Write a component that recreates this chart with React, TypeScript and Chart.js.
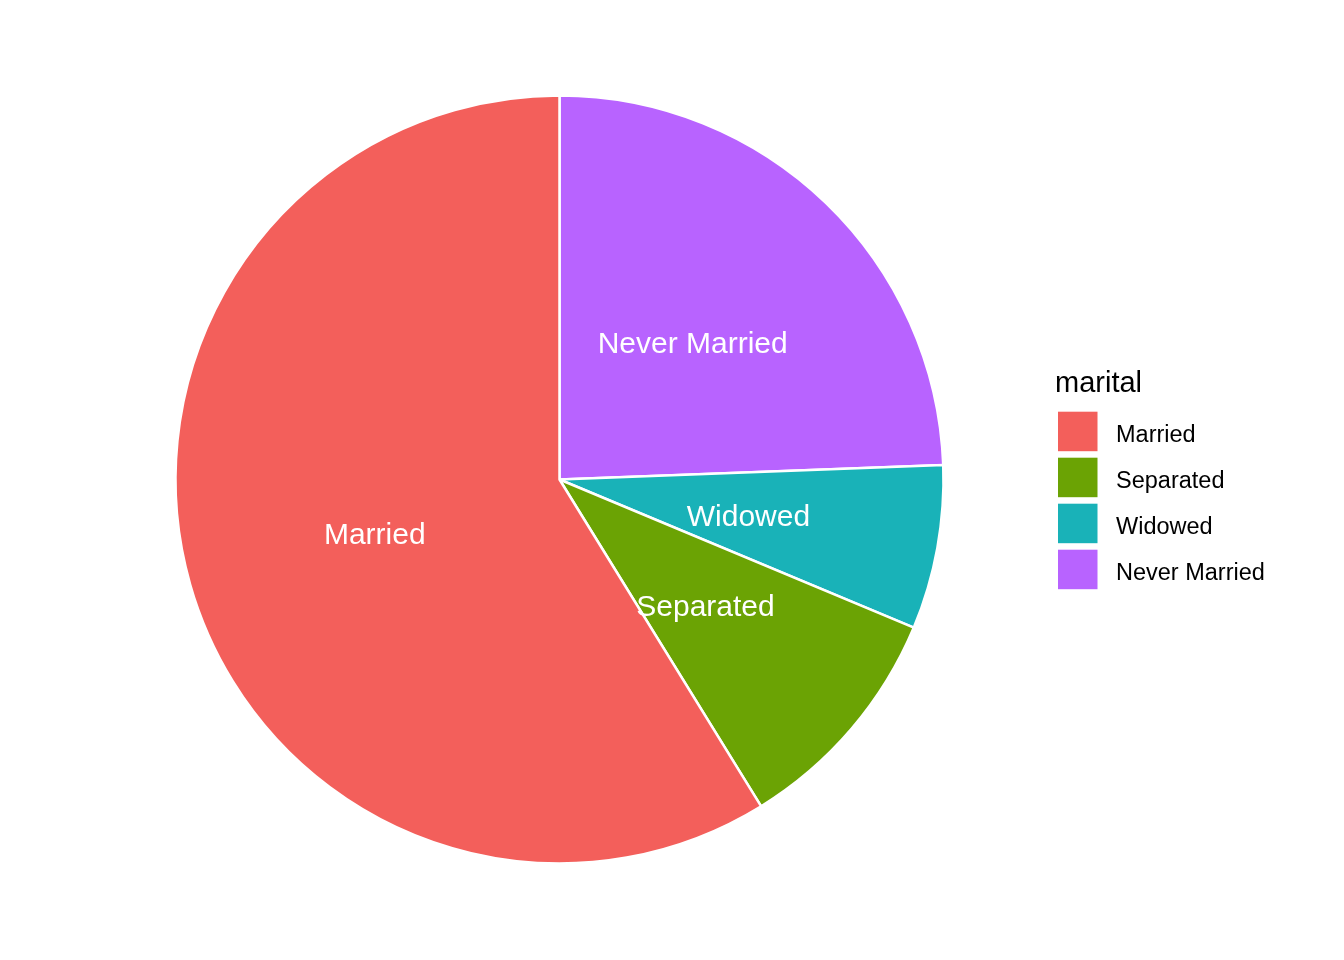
import React, { useEffect, useRef } from "react";
import { Chart, registerables } from "chart.js";

Chart.register(...registerables);

const categories = ["Married", "Separated", "Widowed", "Never Married"];
const counts = [588, 99, 69, 244];
const colors = ["#F35F5B", "#6BA304", "#19B2B8", "#B863FF"];
const legendTitle = "marital";

// Slices are drawn clockwise from 12 o'clock in reverse legend order (as ggplot's stack + coord_polar)
const sliceLabels = [...categories].reverse();
const sliceValues = [...counts].reverse();
const sliceColors = [...colors].reverse();

const FONT = '"Liberation Sans", Arial, Helvetica, sans-serif';

const labelPlugin = {
  id: "sliceLabels",
  afterDatasetsDraw(chart: any) {
    const ctx = chart.ctx;
    const meta = chart.getDatasetMeta(0);
    ctx.save();
    ctx.fillStyle = "#FFFFFF";
    ctx.font = `30px ${FONT}`;
    ctx.textAlign = "center";
    ctx.textBaseline = "alphabetic";
    meta.data.forEach((arc: any, i: number) => {
      const mid = (arc.startAngle + arc.endAngle) / 2;
      const r = arc.outerRadius * 0.5;
      const x = arc.x + Math.cos(mid) * r;
      const y = arc.y + Math.sin(mid) * r;
      ctx.fillText(String(chart.data.labels[i]), x, y + 12.2);
    });
    ctx.restore();
  },
};

const legendPlugin = {
  id: "customLegend",
  afterDraw(chart: any) {
    const ctx = chart.ctx;
    ctx.save();
    ctx.fillStyle = "#000000";
    ctx.textAlign = "left";
    ctx.textBaseline = "alphabetic";
    ctx.font = `29px ${FONT}`;
    ctx.fillText(legendTitle, 1055, 391.5);
    ctx.font = `23.5px ${FONT}`;
    categories.forEach((c, i) => {
      const top = 411.7 + i * 46;
      ctx.fillStyle = colors[i];
      ctx.fillRect(1058, top, 39.5, 39.5);
      ctx.fillStyle = "#000000";
      ctx.fillText(c, 1116, top + 30);
    });
    ctx.restore();
  },
};

export default function App() {
  const ref = useRef<HTMLCanvasElement | null>(null);
  useEffect(() => {
    if (!ref.current) return;
    const chart = new Chart(ref.current, {
      type: "pie",
      data: {
        labels: sliceLabels,
        datasets: [
          {
            data: sliceValues,
            backgroundColor: sliceColors,
            borderColor: "#FFFFFF",
            borderWidth: 2.5,
            hoverOffset: 0,
            offset: 0,
          },
        ],
      },
      options: {
        responsive: false,
        animation: false,
        radius: 384,
        layout: { padding: { left: 176, right: 401, top: 96, bottom: 97 } },
        plugins: {
          legend: { display: false },
          tooltip: { enabled: false },
        },
        events: [],
      } as any,
      plugins: [labelPlugin, legendPlugin],
    });
    return () => chart.destroy();
  }, []);
  return (
    <div style={{ position: "absolute", left: 0, top: 0, width: 1344, height: 960, background: "#FFFFFF" }}>
      <canvas ref={ref} width={1344} height={960} style={{ display: "block" }} />
    </div>
  );
}
